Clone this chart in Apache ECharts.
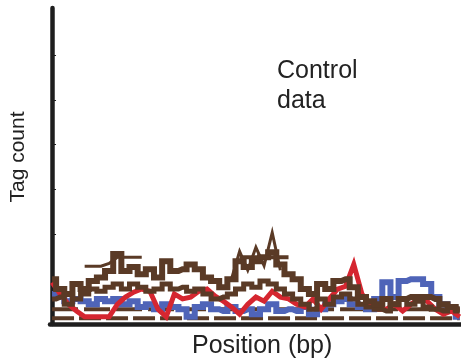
<!DOCTYPE html>
<html><head><meta charset="utf-8">
<script src="https://cdn.jsdelivr.net/npm/echarts@6/dist/echarts.min.js"></script>
<style>html,body{margin:0;padding:0;background:#fff}#c{width:461px;height:359px}</style>
</head><body><div id="c"></div>
<script>
var positions = [0,20,40,60,80,100,120,140,160,180,200,220,240,260,280,300,320,340,360,380,400,420,440,460,480,500,520,540,560,580,600,620,640,660,680,700,720,740,760,780,800,820,840,860,880,900,920,940,960,980,1000];
var brownUpper = [1.00,0.78,0.67,0.89,0.78,0.96,1.04,1.18,1.56,1.18,1.27,1.11,1.22,1.04,1.40,1.18,1.22,1.33,1.22,1.04,0.96,0.82,1.00,1.40,1.27,1.40,1.49,1.60,1.33,1.11,1.00,0.78,0.67,0.89,0.78,0.96,1.00,0.82,0.60,0.51,0.44,0.56,0.44,0.56,0.60,0.60,0.60,0.56,0.44,0.38,0.33];
var brownMid = [0.56,0.60,0.44,0.56,0.67,0.78,0.73,0.82,0.89,0.78,0.89,0.82,0.73,0.78,0.89,0.78,0.82,0.73,0.78,0.67,0.56,0.60,0.67,0.78,0.89,0.82,0.96,0.89,0.78,0.67,0.56,0.44,0.33,0.56,0.44,0.60,0.67,0.56,0.44,0.38,0.33,0.29,0.44,0.56,0.44,0.51,0.38,0.33,0.29,0.38,0.29];
var brownPeaks = [null,null,null,null,1.29,1.29,1.29,1.35,1.49,1.49,1.49,1.49,null,null,null,null,null,null,null,null,null,null,1.00,1.62,1.20,1.71,1.30,2.04,1.20,null,null,null,null,null,null,null,null,null,null,null,null,null,null,null,null,null,null,null,null,null,null];
var brownShelf = [null,null,null,null,null,null,null,null,null,null,null,null,null,null,null,null,null,null,null,null,null,null,null,1.49,1.49,1.49,1.49,1.49,1.49,1.49,null,null,null,null,null,null,null,null,null,null,null,null,null,null,null,null,null,null,null,null,null];
var red = [0.93,0.67,0.44,0.29,0.16,0.16,0.16,0.16,0.44,0.60,0.71,0.78,0.73,0.33,0.16,0.67,0.56,0.60,0.73,0.78,0.62,0.51,0.38,0.22,0.44,0.60,0.51,0.73,0.60,0.56,0.44,0.38,0.56,0.33,0.56,0.78,0.84,1.33,0.67,0.44,0.33,0.33,0.44,0.29,0.44,0.56,0.51,0.33,0.22,0.29,0.16];
var blue = [0.67,0.60,0.51,0.56,0.51,0.44,0.56,0.51,0.56,0.44,0.51,0.38,0.44,0.33,0.44,0.38,0.33,0.16,0.38,0.44,0.33,0.29,0.38,0.29,0.33,0.22,0.33,0.44,0.29,0.33,0.29,0.38,0.22,0.33,0.44,0.51,0.56,0.44,0.38,0.33,0.56,0.93,0.60,0.96,1.00,1.00,0.89,0.60,0.44,0.29,0.16];
var brownLow1 = [0.33,0.33,0.33,0.33,0.33,0.33,0.33,0.33,0.33,0.33,0.33,0.33,0.33,0.33,0.33,0.33,0.33,0.33,0.33,0.33,0.33,0.33,0.33,0.33,0.33,0.33,0.33,0.33,0.33,0.33,0.33,0.33,0.33,0.33,0.33,0.33,0.33,0.33,0.33,0.33,0.33,0.33,0.33,0.33,0.33,0.33,0.33,0.33,0.33,0.33,0.33];
var brownLow2 = [0.13,0.13,0.13,0.13,0.13,0.13,0.13,0.13,0.13,0.13,0.13,0.13,0.13,0.13,0.13,0.13,0.13,0.13,0.13,0.13,0.13,0.13,0.13,0.13,0.13,0.13,0.13,0.13,0.13,0.13,0.13,0.13,0.13,0.13,0.13,0.13,0.13,0.13,0.13,0.13,0.13,0.13,0.13,0.13,0.13,0.13,0.13,0.13,0.13,0.13,0.13];
var yTicks = [1,2,3,4,5,6];

var BROWN = '#5a3a26', RED = '#d52630', BLUE = '#4f64b8';
function pairs(vals){ return positions.map(function(p,i){ return [p, vals[i]]; }); }
function line(vals, color, width, z, dash, step){
  return {type:'line', data:pairs(vals), symbol:'none', z:z, silent:true, connectNulls:false, step: step || false,
    lineStyle:{color:color, width:width, type: dash || 'solid', cap:'butt', join:'miter'}};
}
var chart = echarts.init(document.getElementById('c'), null, {renderer:'canvas'});
chart.setOption({
  animation:false,
  grid:{left:50, right:0, top:8, bottom:35},
  xAxis:{type:'value', min:-5, max:1003, axisLabel:{show:false}, axisTick:{show:false}, splitLine:{show:false},
    axisLine:{lineStyle:{color:'#1e1e1e', width:4.5}}},
  yAxis:{type:'value', min:0, max:7.05, interval:1, axisLabel:{show:false}, splitLine:{show:false},
    axisTick:{show:true, inside:true, length:4, customValues:yTicks, lineStyle:{color:'#1e1e1e', width:1}},
    axisLine:{show:true, lineStyle:{color:'#1e1e1e', width:4.5}}},
  series:[
    line(brownLow2, BROWN, 4, 2, [22,5]),
    line(brownLow1, BROWN, 4, 2, [26,6]),
    line(blue, BLUE, 6, 3, null, 'middle'),
    line(red, RED, 5, 4),
    line(brownMid, BROWN, 5, 5, null, 'middle'),
    line(brownUpper, BROWN, 6, 6, null, 'middle'),
    line(brownPeaks, BROWN, 3, 6),
    line(brownShelf, BROWN, 4, 6)
  ],
  graphic:[
    {type:'text', left:277, top:59, style:{text:'Control', font:'25px "Liberation Sans", Arial, sans-serif', fill:'#222'}},
    {type:'text', left:277, top:89, style:{text:'data', font:'25px "Liberation Sans", Arial, sans-serif', fill:'#222'}},
    {type:'text', left:192, top:334, style:{text:'Position (bp)', font:'25px "Liberation Sans", Arial, sans-serif', fill:'#222'}},
    {type:'text', x:18, y:157, rotation:Math.PI/2, style:{text:'Tag count', font:'21px "Liberation Sans", Arial, sans-serif', fill:'#222', align:'center', verticalAlign:'middle'}}
  ]
});
</script></body></html>
